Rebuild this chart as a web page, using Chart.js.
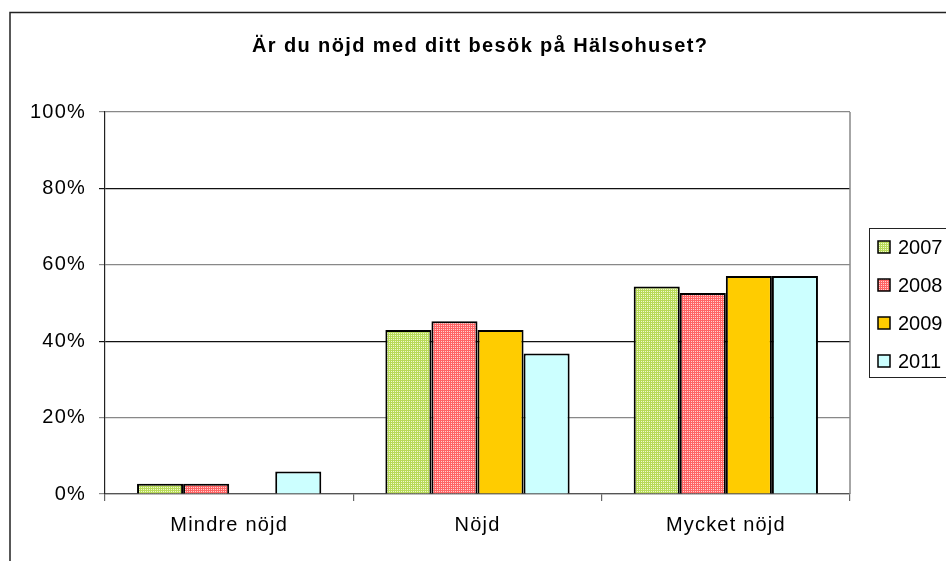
<!DOCTYPE html>
<html>
<head>
<meta charset="utf-8">
<script src="https://cdn.jsdelivr.net/npm/chart.js@4/dist/chart.umd.min.js"></script>
<style>
  html, body { margin: 0; padding: 0; background: #fff; }
  #wrap { width: 946px; height: 561px; position: relative; }
</style>
</head>
<body>
<div id="wrap"><canvas id="c" width="946" height="561"></canvas></div>
<script>
const categories = ['Mindre nöjd', 'Nöjd', 'Mycket nöjd'];
const years = ['2007', '2008', '2009', '2011'];
const v2007 = [2.7, 42.9, 54.3];
const v2008 = [2.7, 45.2, 52.6];
const v2009 = [0, 42.9, 57.1];
const v2011 = [5.9, 36.8, 57.1];
const yTicks = [0, 20, 40, 60, 80, 100];
const titleText = 'Är du nöjd med ditt besök på Hälsohuset?';

function makePattern(dark, light) {
  const t = document.createElement('canvas');
  t.width = 2; t.height = 2;
  const c = t.getContext('2d');
  c.fillStyle = dark; c.fillRect(0, 0, 2, 2);
  c.fillStyle = light; c.fillRect(1, 1, 1, 1);
  return document.getElementById('c').getContext('2d').createPattern(t, 'repeat');
}
const greenPat = makePattern('#b8da58', '#f0f8d0');
const redPat = makePattern('#ff6464', '#ffd0d0');

const FONT = '"Liberation Sans", Arial, sans-serif';

const decor = {
  id: 'decor',
  beforeDraw(chart) {
    const ctx = chart.ctx;
    ctx.save();
    ctx.fillStyle = '#fff';
    ctx.fillRect(0, 0, chart.width, chart.height);
    ctx.strokeStyle = '#222';
    ctx.lineWidth = 1.5;
    ctx.beginPath();
    ctx.moveTo(10, 561);
    ctx.lineTo(10, 12.5);
    ctx.lineTo(946, 12.5);
    ctx.stroke();
    ctx.restore();
    ctx.letterSpacing = '1.2px';
  },
  afterDatasetsDraw(chart) {
    const ctx = chart.ctx;
    const a = chart.chartArea;
    ctx.save();
    ctx.strokeStyle = '#888';
    ctx.lineWidth = 1.5;
    ctx.beginPath();
    ctx.moveTo(a.right, a.top);
    ctx.lineTo(a.right, a.bottom);
    ctx.stroke();
    ctx.restore();
  },
  afterDraw(chart) {
    const ctx = chart.ctx;
    ctx.save();
    ctx.letterSpacing = '0px';
    ctx.font = 'bold 20px ' + FONT;
    const w = ctx.measureText(titleText).width;
    const sp = (455 - w) / (titleText.length - 1);
    ctx.letterSpacing = sp.toFixed(2) + 'px';
    ctx.fillStyle = '#000';
    ctx.textAlign = 'left';
    ctx.textBaseline = 'alphabetic';
    ctx.fillText(titleText, 252, 52);
    ctx.letterSpacing = '0px';
    ctx.strokeStyle = '#222';
    ctx.lineWidth = 1;
    ctx.strokeRect(869.5, 228.5, 100, 149);
    ctx.font = '20px ' + FONT;
    ctx.textBaseline = 'middle';
    chart.data.datasets.forEach((ds, i) => {
      const cy = 247 + i * 38;
      ctx.fillStyle = ds.backgroundColor;
      ctx.fillRect(878, cy - 6, 12, 12);
      ctx.strokeStyle = '#000';
      ctx.lineWidth = 1.5;
      ctx.strokeRect(878, cy - 6, 12, 12);
      ctx.fillStyle = '#000';
      ctx.fillText(ds.label, 898, cy + 1);
    });
    ctx.restore();
  }
};

const colors = [greenPat, redPat, '#ffcc00', '#ccffff'];
const series = [v2007, v2008, v2009, v2011];

new Chart(document.getElementById('c'), {
  type: 'bar',
  data: {
    labels: categories,
    datasets: years.map((y, i) => ({
      label: y,
      data: series[i],
      backgroundColor: colors[i],
      borderColor: '#000',
      borderWidth: 2,
      categoryPercentage: 0.742,
      barPercentage: 1.0
    }))
  },
  options: {
    responsive: false,
    animation: false,
    devicePixelRatio: 1,
    layout: { padding: { top: 112, right: 96, left: 0, bottom: 0 } },
    plugins: {
      legend: { display: false },
      title: { display: false },
      tooltip: { enabled: false }
    },
    scales: {
      x: {
        offset: true,
        grid: { offset: true, drawOnChartArea: false, drawTicks: true, tickLength: 7, color: '#666', lineWidth: 1.2 },
        border: { color: '#555', width: 1.2 },
        ticks: { color: '#000', font: { family: FONT, size: 20 }, padding: 12 },
        afterFit(s) { s.height = 67; }
      },
      y: {
        min: 0,
        max: 100,
        afterBuildTicks(s) { s.ticks = yTicks.map(v => ({ value: v })); },
        grid: {
          color: ctx => (ctx.tick && (ctx.tick.value === 40 || ctx.tick.value === 80)) ? '#111' : '#888',
          lineWidth: 1.2,
          tickLength: 6
        },
        border: { color: '#222', width: 1.2 },
        ticks: {
          color: '#000',
          font: { family: FONT, size: 20 },
          padding: 13,
          callback: v => v + '%'
        },
        afterFit(s) { s.width = 105; }
      }
    }
  },
  plugins: [decor]
});
</script>
</body>
</html>
